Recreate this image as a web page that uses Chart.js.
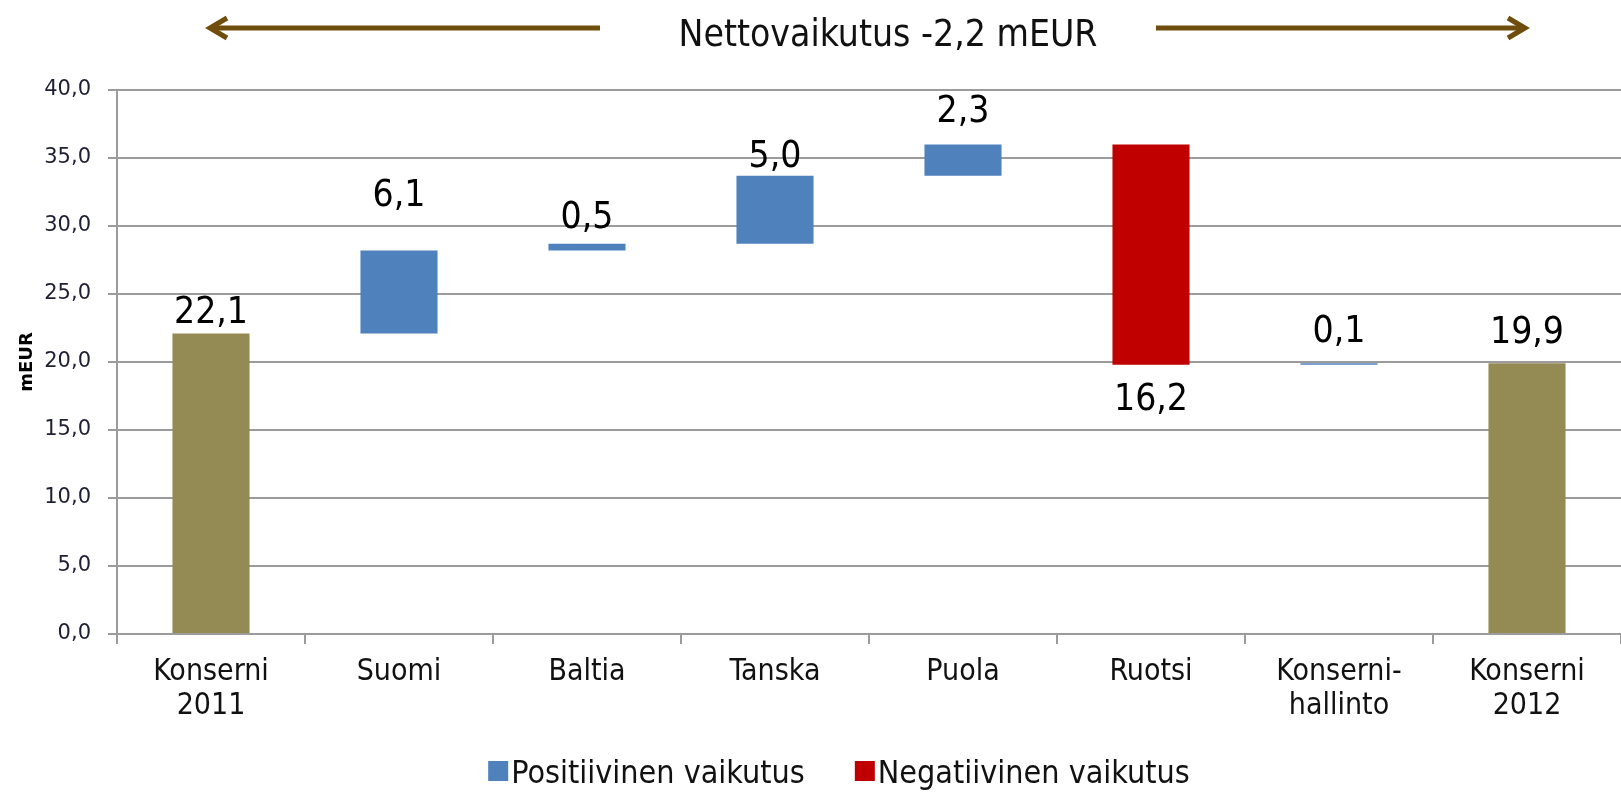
<!DOCTYPE html>
<html>
<head>
<meta charset="utf-8">
<script src="https://cdn.jsdelivr.net/npm/chart.js@4.4.1/dist/chart.umd.min.js"></script>
<style>
  html, body { margin: 0; padding: 0; background: #fff; }
  #wrap { width: 1621px; height: 793px; }
</style>
</head>
<body>
<div id="wrap"><canvas id="chart" width="1621" height="793"></canvas></div>
<script>
const categories = [["Konserni", "2011"], "Suomi", "Baltia", "Tanska", "Puola", "Ruotsi", ["Konserni-", "hallinto"], ["Konserni", "2012"]];
const changes = [22.1, 6.1, 0.5, 5.0, 2.3, -16.2, 0.1, 19.9];
const kinds = ["total", "up", "up", "up", "up", "down", "up", "total"];
const yTicks = [0, 5, 10, 15, 20, 25, 30, 35, 40];
const seriesNames = ["Konserni", "Positiivinen vaikutus", "Negatiivinen vaikutus"];
const titleText = "Nettovaikutus -2,2 mEUR";
const axisTitle = "mEUR";

// label distance from bar edge (px), Excel labels were hand placed
const labelGaps = [10, 44, 16, 9, 22, 19, 21, 20];

const colors = { total: "#948A54", up: "#4F81BD", down: "#C00000" };
const fmt = v => v.toFixed(1).replace(".", ",");

// floating bars from the running total
let running = 0;
const totalBars = [], upBars = [], downBars = [];
changes.forEach((v, i) => {
  let bar;
  if (kinds[i] === "total") { bar = [0, v]; running = v; }
  else { bar = [running, running + v]; running += v; }
  totalBars.push(kinds[i] === "total" ? bar : null);
  upBars.push(kinds[i] === "up" ? bar : null);
  downBars.push(kinds[i] === "down" ? bar : null);
});

const condensed = '"DejaVu Sans Condensed", "DejaVu Sans", sans-serif';

const valueLabels = {
  id: "valueLabels",
  afterDatasetsDraw(chart) {
    const ctx = chart.ctx;
    ctx.save();
    ctx.font = "37px " + condensed;
    ctx.fillStyle = "#000";
    ctx.textAlign = "center";
    ctx.textBaseline = "alphabetic";
    chart.data.datasets.forEach((ds, di) => {
      const meta = chart.getDatasetMeta(di);
      meta.data.forEach((bar, i) => {
        if (ds.data[i] == null) return;
        const p = bar.getProps(["x", "y", "base"], true);
        const top = Math.min(p.y, p.base);
        const bottom = Math.max(p.y, p.base);
        const text = fmt(Math.abs(changes[i]));
        if (changes[i] < 0) ctx.fillText(text, p.x, bottom + labelGaps[i] + 26);
        else ctx.fillText(text, p.x, top - labelGaps[i]);
      });
    });
    ctx.restore();
  }
};

function arrow(ctx, from, tip, y) {
  const dir = tip > from ? 1 : -1;
  ctx.beginPath();
  ctx.moveTo(from, y);
  ctx.lineTo(tip - dir * 3, y);
  ctx.stroke();
  ctx.beginPath();
  ctx.moveTo(tip - dir * 17, y - 10);
  ctx.lineTo(tip, y);
  ctx.lineTo(tip - dir * 17, y + 10);
  ctx.stroke();
}

const header = {
  id: "header",
  afterDraw(chart) {
    const ctx = chart.ctx;
    ctx.save();
    ctx.font = "37px " + condensed;
    ctx.fillStyle = "#111";
    ctx.textAlign = "center";
    ctx.textBaseline = "alphabetic";
    ctx.fillText(titleText, 888, 46);
    ctx.strokeStyle = "#6f4e0d";
    ctx.lineWidth = 5;
    ctx.lineJoin = "miter";
    arrow(ctx, 600, 210, 28);
    arrow(ctx, 1156, 1525, 28);
    ctx.restore();
  }
};

const legendBox = {
  id: "legendBox",
  afterDraw(chart) {
    const ctx = chart.ctx;
    ctx.save();
    ctx.font = "32px " + condensed;
    ctx.textBaseline = "alphabetic";
    const items = [1, 2].map(di => ({
      text: chart.data.datasets[di].label,
      color: chart.data.datasets[di].backgroundColor
    }));
    const widths = items.map(it => 23 + ctx.measureText(it.text).width);
    const gap = 50;
    let x = 839 - (widths[0] + widths[1] + gap) / 2;
    items.forEach((it, k) => {
      ctx.fillStyle = it.color;
      ctx.fillRect(x, 761, 20, 20);
      ctx.fillStyle = "#111";
      ctx.fillText(it.text, x + 23, 783);
      x += widths[k] + gap;
    });
    ctx.restore();
  }
};

new Chart(document.getElementById("chart"), {
  type: "bar",
  data: {
    labels: categories,
    datasets: [
      { label: seriesNames[0], data: totalBars, backgroundColor: colors.total },
      { label: seriesNames[1], data: upBars, backgroundColor: colors.up },
      { label: seriesNames[2], data: downBars, backgroundColor: colors.down }
    ]
  },
  options: {
    responsive: false,
    animation: false,
    layout: { padding: { top: 90, left: 0, right: 0, bottom: 0 } },
    datasets: {
      bar: { grouped: false, barPercentage: 0.41, categoryPercentage: 1, borderWidth: 0 }
    },
    plugins: {
      legend: { display: false },
      tooltip: { enabled: false }
    },
    scales: {
      x: {
        afterFit: s => { s.height = 159; },
        grid: { display: true, drawOnChartArea: false, offset: true, tickLength: 10, color: "#9b9b9b", lineWidth: 2 },
        border: { color: "#9b9b9b", width: 2 },
        ticks: {
          font: { family: condensed, size: 30, lineHeight: 1.14 },
          color: "#111",
          padding: 11,
          maxRotation: 0,
          autoSkip: false
        }
      },
      y: {
        min: yTicks[0],
        max: yTicks[yTicks.length - 1],
        afterFit: s => { s.width = 117; },
        afterBuildTicks: s => { s.ticks = yTicks.map(v => ({ value: v })); },
        grid: { color: "#9b9b9b", lineWidth: 2, tickLength: 9 },
        border: { color: "#9b9b9b", width: 2 },
        ticks: {
          font: { family: '"DejaVu Sans", sans-serif', size: 21 },
          color: "#1f1f33",
          padding: 17,
          callback: v => fmt(v)
        },
        title: {
          display: true,
          text: axisTitle,
          font: { family: '"DejaVu Sans", sans-serif', size: 18, weight: "bold" },
          color: "#000",
          padding: { top: 17, bottom: 0 }
        }
      }
    }
  },
  plugins: [valueLabels, header, legendBox]
});
</script>
</body>
</html>
